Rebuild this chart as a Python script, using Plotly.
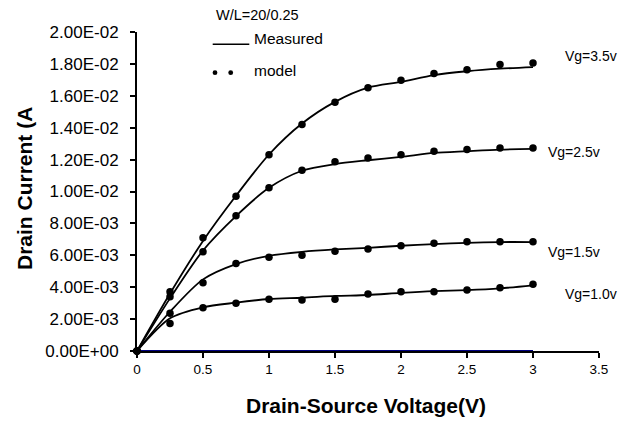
import plotly.graph_objects as go

# ---------------- data ----------------
vds = [0, 0.25, 0.5, 0.75, 1.0, 1.25, 1.5, 1.75, 2.0, 2.25, 2.5, 2.75, 3.0]

meas_35 = [0, 3.6e-3, 6.9e-3, 9.73e-3, 12.32e-3, 14.26e-3, 15.62e-3, 16.51e-3, 16.87e-3, 17.3e-3, 17.54e-3, 17.7e-3, 17.8e-3]
model_35 = [0, 3.72e-3, 7.1e-3, 9.71e-3, 12.3e-3, 14.2e-3, 15.6e-3, 16.5e-3, 16.97e-3, 17.4e-3, 17.64e-3, 17.96e-3, 18.06e-3]

meas_25 = [0, 3.3e-3, 6.3e-3, 8.46e-3, 10.23e-3, 11.3e-3, 11.72e-3, 11.96e-3, 12.17e-3, 12.42e-3, 12.53e-3, 12.63e-3, 12.67e-3]
model_25 = [0, 3.4e-3, 6.22e-3, 8.48e-3, 10.23e-3, 11.34e-3, 11.86e-3, 12.1e-3, 12.3e-3, 12.53e-3, 12.63e-3, 12.73e-3, 12.73e-3]

meas_15 = [0, 2.46e-3, 4.49e-3, 5.45e-3, 5.97e-3, 6.22e-3, 6.37e-3, 6.47e-3, 6.6e-3, 6.7e-3, 6.78e-3, 6.83e-3, 6.83e-3]
model_15 = [0, 2.36e-3, 4.28e-3, 5.49e-3, 5.87e-3, 6.01e-3, 6.26e-3, 6.39e-3, 6.6e-3, 6.75e-3, 6.85e-3, 6.85e-3, 6.85e-3]

meas_10 = [0, 2.05e-3, 2.74e-3, 3.03e-3, 3.26e-3, 3.34e-3, 3.45e-3, 3.51e-3, 3.65e-3, 3.76e-3, 3.82e-3, 3.93e-3, 4.12e-3]
model_10 = [0, 1.73e-3, 2.71e-3, 2.99e-3, 3.24e-3, 3.19e-3, 3.24e-3, 3.57e-3, 3.72e-3, 3.72e-3, 3.82e-3, 3.97e-3, 4.18e-3]

zero_current = [0, 0, 0, 0, 0, 0, 0, 0, 0, 0, 0, 0, 0]

curve_labels = ["Vg=3.5v", "Vg=2.5v", "Vg=1.5v", "Vg=1.0v"]
label_x = [3.225, 3.10, 3.10, 3.225]
label_y = [0.01848, 0.01247, 0.0062, 0.00357]

y_tickvals = [0, 0.002, 0.004, 0.006, 0.008, 0.010, 0.012, 0.014, 0.016, 0.018, 0.020]
y_ticktext = ["0.00E+00", "2.00E-03", "4.00E-03", "6.00E-03", "8.00E-03", "1.00E-02",
              "1.20E-02", "1.40E-02", "1.60E-02", "1.80E-02", "2.00E-02"]
x_tickvals = [0, 0.5, 1, 1.5, 2, 2.5, 3, 3.5]
x_ticktext = ["0", "0.5", "1", "1.5", "2", "2.5", "3", "3.5"]

# ---------------- figure ----------------
FONT = "Arial, Liberation Sans, sans-serif"
# page has an 8px body margin; figure is offset by 8px and extends to the window edge
W, H = 619, 413
L, R, T, B = 129, 28, 24, 70
PLOT_LEFT, PLOT_RIGHT, PLOT_TOP, PLOT_BOTTOM = 137, 599, 32, 351  # page pixels
pw, ph = PLOT_RIGHT - PLOT_LEFT, PLOT_BOTTOM - PLOT_TOP


def px_x(p):
    return (p - PLOT_LEFT) / pw


def px_y(p):
    return (PLOT_BOTTOM - p) / ph


fig = go.Figure()

fig.add_trace(go.Scatter(x=vds, y=zero_current, mode="lines",
                         line=dict(color="#000080", width=2), cliponaxis=False,
                         showlegend=False, hoverinfo="skip"))

for meas, model in [(meas_35, model_35), (meas_25, model_25), (meas_15, model_15), (meas_10, model_10)]:
    fig.add_trace(go.Scatter(x=vds, y=meas, mode="lines",
                             line=dict(color="black", width=1.8, shape="spline", smoothing=0.8),
                             cliponaxis=False, showlegend=False))
    fig.add_trace(go.Scatter(x=vds, y=model, mode="markers",
                             marker=dict(color="black", size=7.5), cliponaxis=False,
                             showlegend=False))

annotations = []
for t, lx, ly in zip(curve_labels, label_x, label_y):
    annotations.append(dict(x=lx, y=ly, xref="x", yref="y", text=t, showarrow=False,
                            xanchor="left", yanchor="middle",
                            font=dict(family=FONT, size=14, color="black")))

annotations += [
    dict(x=px_x(214), y=px_y(15), xref="paper", yref="paper", text="W/L=20/0.25",
         showarrow=False, xanchor="left", yanchor="middle",
         font=dict(family=FONT, size=14.5, color="black")),
    dict(x=px_x(252), y=px_y(38.5), xref="paper", yref="paper", text="Measured",
         showarrow=False, xanchor="left", yanchor="middle",
         font=dict(family=FONT, size=15.5, color="black")),
    dict(x=px_x(252), y=px_y(70.5), xref="paper", yref="paper", text="model",
         showarrow=False, xanchor="left", yanchor="middle",
         font=dict(family=FONT, size=15.5, color="black")),
    dict(x=px_x(24), y=px_y(189), xref="paper", yref="paper", text="<b>Drain Current (A</b>",
         showarrow=False, xanchor="center", yanchor="middle", textangle=-90,
         font=dict(family=FONT, size=21, color="black")),
    dict(x=px_x(366), y=px_y(405.5), xref="paper", yref="paper",
         text="<b>Drain-Source Voltage(V)</b>",
         showarrow=False, xanchor="center", yanchor="middle",
         font=dict(family=FONT, size=21, color="black")),
]

shapes = [
    dict(type="line", xref="paper", yref="paper", x0=px_x(212.7), x1=px_x(249.3),
         y0=px_y(44.3), y1=px_y(44.3), line=dict(color="black", width=1.5)),
    dict(type="circle", xref="paper", yref="paper", x0=px_x(212.6), x1=px_x(217.4),
         y0=px_y(70.3), y1=px_y(75.1), fillcolor="black", line=dict(color="black", width=0)),
    dict(type="circle", xref="paper", yref="paper", x0=px_x(228.3), x1=px_x(233.1),
         y0=px_y(70.3), y1=px_y(75.1), fillcolor="black", line=dict(color="black", width=0)),
]

fig.update_layout(
    width=W, height=H,
    margin=dict(l=L, r=R, t=T, b=B, pad=0),
    paper_bgcolor="white", plot_bgcolor="white",
    showlegend=False,
    annotations=annotations,
    shapes=shapes,
    font=dict(family=FONT, color="black"),
)

fig.update_xaxes(range=[0, 3.5], tickvals=x_tickvals, ticktext=x_ticktext,
                 showgrid=False, zeroline=False, showline=True, linecolor="black", linewidth=2,
                 ticks="outside", ticklen=5, tickwidth=2, tickcolor="black",
                 tickfont=dict(family=FONT, size=13.5, color="black"))
fig.update_yaxes(range=[0, 0.02], tickvals=y_tickvals, ticktext=y_ticktext,
                 showgrid=False, zeroline=False, showline=True, linecolor="black", linewidth=2,
                 ticks="outside", ticklen=5, tickwidth=2, tickcolor="black",
                 ticklabelstandoff=8,
                 tickfont=dict(family=FONT, size=17, color="black"))

fig.write_html("out.html")
